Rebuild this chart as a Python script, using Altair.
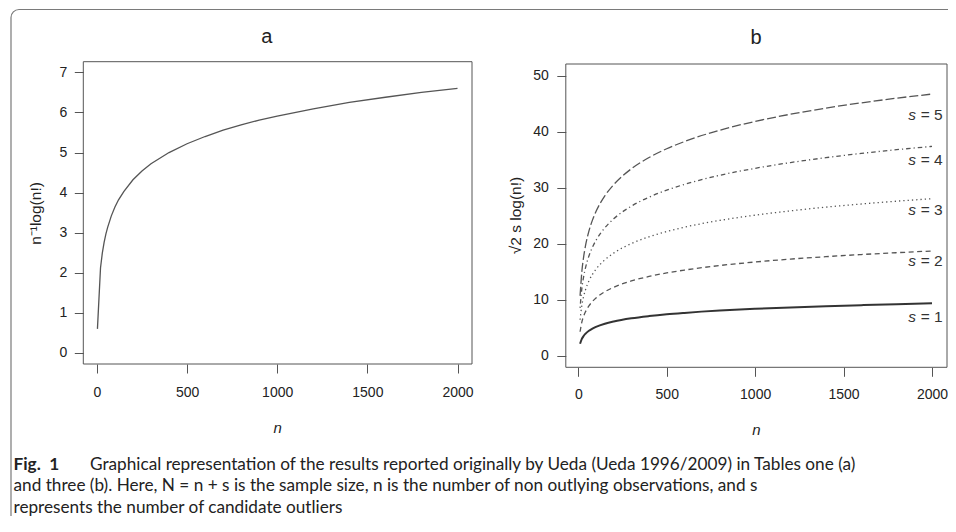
import altair as alt
import pandas as pd

# ---------------- data ----------------
# Panel a: n^-1 log(n!) against n
n_a = [3, 20, 30, 40, 50, 60, 80, 100, 120, 150, 200, 250, 300, 400, 500,
       600, 700, 800, 900, 1000, 1200, 1400, 1600, 1800, 2000]
val_a = [0.60, 2.12, 2.49, 2.76, 2.97, 3.14, 3.42, 3.64, 3.82, 4.03, 4.32, 4.54,
         4.72, 5.00, 5.22, 5.40, 5.56, 5.69, 5.81, 5.91, 6.09, 6.25, 6.38, 6.50, 6.60]

# Panel b: sqrt(2) s log(n!) for s = 1..5
n_b = [10, 20, 30, 40, 60, 80, 100, 150, 200, 300, 400, 500, 600, 800,
       1000, 1200, 1400, 1600, 1800, 2000]
s1 = [2.14, 2.99, 3.52, 3.90, 4.45, 4.84, 5.14, 5.70, 6.10, 6.67, 7.07, 7.39,
      7.64, 8.05, 8.36, 8.62, 8.84, 9.02, 9.19, 9.34]
s2 = [4.27, 5.99, 7.04, 7.80, 8.89, 9.68, 10.29, 11.41, 12.21, 13.34, 14.14,
      14.77, 15.28, 16.09, 16.72, 17.24, 17.67, 18.05, 18.38, 18.68]
s3 = [6.41, 8.98, 10.56, 11.70, 13.34, 14.51, 15.43, 17.11, 18.31, 20.01, 21.22,
      22.16, 22.93, 24.14, 25.08, 25.85, 26.51, 27.07, 27.57, 28.01]
s4 = [8.54, 11.98, 14.08, 15.60, 17.78, 19.35, 20.58, 22.82, 24.42, 26.68, 28.29,
      29.54, 30.57, 32.19, 33.44, 34.47, 35.34, 36.10, 36.76, 37.35]
s5 = [10.68, 14.97, 17.60, 19.50, 22.23, 24.19, 25.72, 28.52, 30.52, 33.35, 35.36,
      36.93, 38.21, 40.24, 41.81, 43.09, 44.18, 45.12, 45.95, 46.69]

s_names = ["1", "2", "3", "4", "5"]
label_vals = ["= 1", "= 2", "= 3", "= 4", "= 5"]
label_y = [6.9, 16.9, 26.0, 35.0, 43.0]
label_n_s = 1865
label_n_eq = 2060

ticks_x = [0, 500, 1000, 1500, 2000]
ticks_ya = [0, 1, 2, 3, 4, 5, 6, 7]
ticks_yb = [0, 10, 20, 30, 40, 50]

caption_fig = "Fig.\u20021"
caption_lines = [
    "Graphical representation of the results reported originally by Ueda (Ueda 1996/2009) in Tables one (a)",
    "and three (b). Here, N = n + s is the sample size, n is the number of non outlying observations, and s",
    "represents the number of candidate outliers",
]

# ---------------- layout ----------------
W, H = 940, 508
FONT = "Liberation Sans"
CAP_FONT = "Lato"
INK = "#222222"
LINE = "#555555"

df_a = pd.DataFrame({"n": n_a, "v": val_a})
series = {"1": s1, "2": s2, "3": s3, "4": s4, "5": s5}
rows = []
for k, vals in series.items():
    for n, v in zip(n_b, vals):
        rows.append({"n": n, "v": v, "s": k})
df_b = pd.DataFrame(rows)
df_lab = pd.DataFrame({"ns": [label_n_s] * 5, "ne": [label_n_eq] * 5,
                       "y": label_y, "t": label_vals, "s": ["s"] * 5})

XA = alt.Scale(domain=[0, 2000], range=[88.9, 449.5], nice=False, zero=False)
YA = alt.Scale(domain=[0, 7], range=[344.9, 64.4], nice=False, zero=False)
XB = alt.Scale(domain=[0, 2000], range=[570.3, 924.0], nice=False, zero=False)
YB = alt.Scale(domain=[0, 50], range=[347.7, 67.5], nice=False, zero=False)

common_axis = dict(domain=False, grid=False, tickSize=9, tickColor="#555555",
                   tickWidth=1, labelFont=FONT, labelFontSize=14, labelColor=INK,
                   titleFont=FONT, titleColor=INK,
                   titleFontWeight="normal", labelOverlap=False, format="d")

axA_x = alt.Axis(orient="bottom", offset=356.0 - H, values=ticks_x, labelFlush=False,
                 labelBaseline="middle", labelPadding=19.0, title="n",
                 titleFontStyle="italic", titleFontSize=15, titleX=269.2, titleY=63.0,
                 titleBaseline="middle", titleAlign="center", **common_axis)
axA_y = alt.Axis(orient="left", offset=-75.3, values=ticks_ya, labelPadding=7.6,
                 labelFlush=False, title="n⁻¹log(n!)", titleAngle=270,
                 titleFontSize=15.5,
                 titleX=-48.3, titleY=205.0, titleBaseline="middle",
                 titleAlign="center", **common_axis)
axB_x = alt.Axis(orient="bottom", offset=359.3 - H, values=ticks_x, labelFlush=False,
                 labelBaseline="middle", labelPadding=18.0, title="n",
                 titleFontStyle="italic", titleFontSize=15, titleX=748.0, titleY=62.0,
                 titleBaseline="middle", titleAlign="center", **common_axis)
axB_y = alt.Axis(orient="left", offset=-557.8, values=ticks_yb, labelPadding=8.5,
                 labelFlush=False, title="√2 s log(n!)", titleAngle=270,
                 titleFontSize=15.5,
                 titleX=-50.0, titleY=207.0, titleBaseline="middle",
                 titleAlign="center", **common_axis)

one = pd.DataFrame({"k": [0]})

outer = alt.Chart(one).mark_rect(fillOpacity=0, stroke="#7a7a7a", strokeWidth=1.2,
                                 cornerRadius=8).encode(
    x=alt.value(3), x2=alt.value(W + 30), y=alt.value(1.5), y2=alt.value(H + 30))
frame_a = alt.Chart(one).mark_rect(fillOpacity=0, stroke="#555555", strokeWidth=1).encode(
    x=alt.value(75.3), x2=alt.value(464.0), y=alt.value(53.7), y2=alt.value(356.0))
frame_b = alt.Chart(one).mark_rect(fillOpacity=0, stroke="#555555", strokeWidth=1).encode(
    x=alt.value(557.8), x2=alt.value(939.0), y=alt.value(56.0), y2=alt.value(359.3))

line_a = alt.Chart(df_a).mark_line(color=LINE, strokeWidth=1.3).encode(
    x=alt.X("n:Q", scale=XA, axis=axA_x),
    y=alt.Y("v:Q", scale=YA, axis=axA_y))

line_b1 = alt.Chart(df_b[df_b.s == "1"]).mark_line(
    color="#333333", strokeWidth=2.0, interpolate="monotone").encode(
    x=alt.X("n:Q", scale=XB, axis=axB_x),
    y=alt.Y("v:Q", scale=YB, axis=axB_y))

line_b2 = alt.Chart(df_b[df_b.s != "1"]).mark_line(
    color=LINE, strokeWidth=1.3, interpolate="monotone").encode(
    x=alt.X("n:Q", scale=XB, axis=None),
    y=alt.Y("v:Q", scale=YB, axis=None),
    strokeDash=alt.StrokeDash("s:N", legend=None, scale=alt.Scale(
        domain=["2", "3", "4", "5"],
        range=[[5, 3.5], [1.3, 3], [1.2, 3, 4.5, 3], [9, 3]])))

lab_s = alt.Chart(df_lab).mark_text(font=FONT, fontSize=15.5, fontStyle="italic",
                                    align="left", baseline="middle", color="#333333").encode(
    x=alt.X("ns:Q", scale=XB, axis=None),
    y=alt.Y("y:Q", scale=YB, axis=None),
    text="s:N")
lab_eq = alt.Chart(df_lab).mark_text(font=FONT, fontSize=15.5, align="right",
                                     baseline="middle", color="#333333").encode(
    x=alt.X("ne:Q", scale=XB, axis=None),
    y=alt.Y("y:Q", scale=YB, axis=None),
    text="t:N")

def label(txt, x, y, **kw):
    return alt.Chart(pd.DataFrame({"t": [txt]})).mark_text(**kw).encode(
        x=alt.value(x), y=alt.value(y), text="t:N")

title_a = label("a", 258.8, 34.7, font=FONT, fontSize=20, align="center",
                baseline="alphabetic", color=INK)
title_b = label("b", 748.0, 36.3, font=FONT, fontSize=20, align="center",
                baseline="alphabetic", color=INK)

cap_kw = dict(font=CAP_FONT, fontSize=17.2, align="left", baseline="alphabetic", color=INK)
cap_fig = label(caption_fig, 5.5, 461.5, fontWeight="bold", **cap_kw)
cap1 = label(caption_lines[0], 82.0, 461.5, **cap_kw)
cap2 = label(caption_lines[1], 5.5, 483.0, **cap_kw)
cap3 = label(caption_lines[2], 5.5, 504.5, **cap_kw)

chart = alt.layer(
    outer, frame_a, frame_b, line_a, line_b1, line_b2, lab_s, lab_eq,
    title_a, title_b, cap_fig, cap1, cap2, cap3
).resolve_scale(
    x="independent", y="independent", strokeDash="independent"
).resolve_axis(
    x="independent", y="independent"
).properties(
    width=W, height=H, padding=0,
    autosize=alt.AutoSizeParams(type="none")
).configure_view(stroke=None)

chart.save("out.html", embed_options={"renderer": "svg", "actions": False})
